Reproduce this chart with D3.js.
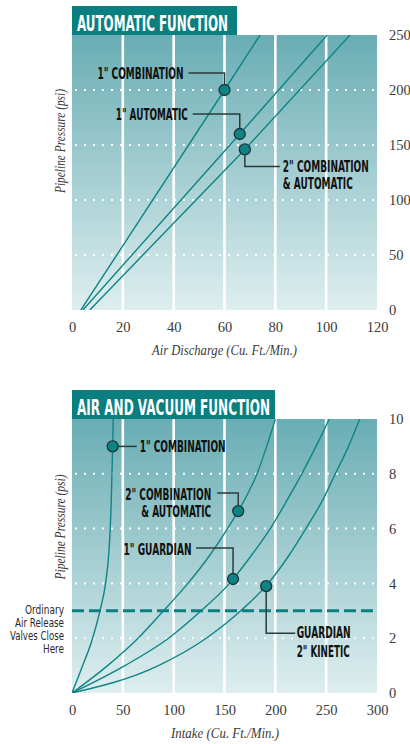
<!DOCTYPE html>
<html>
<head>
<meta charset="utf-8">
<script src="https://cdn.jsdelivr.net/npm/d3@7"></script>
<style>
  body { margin: 0; background: #fff; }
  .cond { font-family: "DejaVu Sans Condensed", "Liberation Sans Narrow", "DejaVu Sans", sans-serif; font-stretch: condensed; }
  .serif { font-family: "Liberation Serif", "DejaVu Serif", serif; }
</style>
</head>
<body>
<div id="vis"></div>
<script>
// ---- data ----
// automatic function: pressure (psi) vs air discharge (cfm)
const autoXTicks = [0, 20, 40, 60, 80, 100, 120];
const autoYTicks = [0, 50, 100, 150, 200, 250];
const autoComb1 = [[3.5, 0], [60, 200], [74, 250]];
const autoAuto1 = [[4.3, 0], [66, 160], [100.4, 250]];
const autoComb2 = [[7, 0], [68, 146], [109.4, 250]];

// air and vacuum function: pressure (psi) vs intake (cfm)
const vacXTicks = [0, 50, 100, 150, 200, 250, 300];
const vacYTicks = [0, 2, 4, 6, 8, 10];
const vacComb1 = [[0, 0], [10.5, 1], [20.3, 2], [27.5, 3], [33, 4], [36, 5], [37.6, 6], [38.6, 7], [39.3, 8], [40, 9], [40.6, 10]];
const vacComb2 = [[0, 0], [35, 1], [65, 2], [90, 3], [114, 4], [135, 5], [153, 6], [169, 7], [182, 8], [191.5, 9], [200, 10]];
const vacGuard1 = [[0, 0], [52, 1], [95, 2], [127, 3], [155, 4], [176, 5], [195, 6], [211, 7], [226, 8], [240, 9], [253, 10]];
const vacKinetic2 = [[0, 0], [85, 1], [132, 2], [166, 3], [193, 4], [213, 5], [230, 6], [246, 7], [259, 8], [272, 9], [283, 10]];
const closeLevel = 3;

var teal = "#0f8486";
var dark = "#2b3b3b";

var svg = d3.select("#vis")
    .append("svg")
    .attr("width", 410)
    .attr("height", 744);

var defs = svg.append("defs");
var grad = defs.append("linearGradient")
    .attr("id", "bg")
    .attr("x1", 0).attr("y1", 0).attr("x2", 0).attr("y2", 1);
grad.append("stop").attr("offset", "0%").attr("stop-color", "#69adb4");
grad.append("stop").attr("offset", "100%").attr("stop-color", "#deeeef");

function drawPanel(cfg) {
    var x = d3.scaleLinear().domain(cfg.xDomain).range([72, 377]);
    var y = d3.scaleLinear().domain(cfg.yDomain).range([cfg.bottom, cfg.top]);
    var g = svg.append("g");

    defs.append("clipPath").attr("id", cfg.id + "-clip")
        .append("rect")
        .attr("x", 72).attr("y", cfg.top)
        .attr("width", 305).attr("height", cfg.bottom - cfg.top);

    g.append("rect")
        .attr("x", 72).attr("y", cfg.top)
        .attr("width", 305).attr("height", cfg.bottom - cfg.top)
        .attr("fill", "url(#bg)");

    // white vertical grid
    g.selectAll(".vgrid")
        .data(cfg.xTicks.slice(1, -1))
        .enter().append("line")
        .attr("x1", d => x(d)).attr("x2", d => x(d))
        .attr("y1", cfg.top).attr("y2", cfg.bottom)
        .attr("stroke", "#fff")
        .attr("stroke-width", 2.6);

    // dotted horizontal grid
    g.selectAll(".hgrid")
        .data(cfg.yTicks.slice(1, -1))
        .enter().append("line")
        .attr("x1", 75).attr("x2", 377)
        .attr("y1", d => y(d)).attr("y2", d => y(d))
        .attr("stroke", "#fff")
        .attr("stroke-width", 2)
        .attr("stroke-dasharray", "2,7");

    // title tab
    g.append("rect")
        .attr("x", 72).attr("y", cfg.top - 29)
        .attr("width", cfg.tabWidth).attr("height", 29)
        .attr("fill", "#0b7f80");
    g.append("text")
        .attr("class", "cond")
        .attr("x", 77).attr("y", cfg.top - 4)
        .attr("fill", "#fff")
        .attr("font-size", 21)
        .attr("font-weight", "bold")
        .attr("textLength", cfg.titleLen)
        .attr("lengthAdjust", "spacingAndGlyphs")
        .text(cfg.title);

    // axes
    var xAxis = d3.axisBottom(x).tickValues(cfg.xTicks).tickSize(0).tickPadding(12);
    var yAxis = d3.axisRight(y).tickValues(cfg.yTicks).tickSize(0).tickPadding(12);

    var gx = g.append("g")
        .attr("transform", "translate(0," + cfg.bottom + ")")
        .call(xAxis);
    var gy = g.append("g")
        .attr("transform", "translate(377,0)")
        .call(yAxis);
    [gx, gy].forEach(function (a) {
        a.select(".domain").remove();
        a.selectAll("text")
            .attr("class", "serif")
            .attr("font-size", 14.5)
            .attr("fill", "#3a3a3a");
    });

    g.append("text")
        .attr("class", "serif")
        .attr("x", cfg.xTitleX).attr("y", cfg.bottom + 45)
        .attr("font-size", 14.5)
        .attr("font-style", "italic")
        .attr("fill", "#3a3a3a")
        .attr("textLength", cfg.xTitleLen)
        .attr("lengthAdjust", "spacingAndGlyphs")
        .text(cfg.xTitle);

    g.append("text")
        .attr("class", "serif")
        .attr("transform", "translate(65," + cfg.yTitleMid + ") rotate(-90)")
        .attr("text-anchor", "middle")
        .attr("font-size", 14.5)
        .attr("font-style", "italic")
        .attr("fill", "#3a3a3a")
        .attr("textLength", cfg.yTitleLen)
        .attr("lengthAdjust", "spacingAndGlyphs")
        .text("Pipeline Pressure (psi)");

    if (cfg.dashed != null) {
        g.append("line")
            .attr("x1", 72).attr("x2", 377)
            .attr("y1", y(cfg.dashed)).attr("y2", y(cfg.dashed))
            .attr("stroke", "#0b7f80")
            .attr("stroke-width", 3)
            .attr("stroke-dasharray", "12,5");
    }

    var line = d3.line()
        .x(d => x(d[0]))
        .y(d => y(d[1]))
        .curve(cfg.curve);

    g.append("g")
        .attr("clip-path", "url(#" + cfg.id + "-clip)")
        .selectAll("path")
        .data(cfg.series)
        .enter().append("path")
        .attr("d", d => line(d.values))
        .attr("fill", "none")
        .attr("stroke", teal)
        .attr("stroke-width", 1.4);

    // callouts: leader lines, markers, labels
    cfg.notes.forEach(function (n) {
        var px = x(n.at[0]), py = y(n.at[1]);
        g.append("path")
            .attr("d", "M" + n.leader.map(p => (px + p[0]) + "," + (py + p[1])).join("L"))
            .attr("fill", "none")
            .attr("stroke", dark)
            .attr("stroke-width", 1.5);
        g.append("circle")
            .attr("cx", px).attr("cy", py)
            .attr("r", 5.5)
            .attr("fill", "#0e8385")
            .attr("stroke", "#1d3434")
            .attr("stroke-width", 1.3);
        n.lines.forEach(function (t, i) {
            g.append("text")
                .attr("class", "cond")
                .attr("x", px + n.dx)
                .attr("y", py + n.dy[i])
                .attr("text-anchor", n.anchor)
                .attr("font-size", 15)
                .attr("font-weight", "bold")
                .attr("fill", "#111")
                .attr("textLength", n.len[i])
                .attr("lengthAdjust", "spacingAndGlyphs")
                .text(t);
        });
    });
    return { x: x, y: y, g: g };
}

drawPanel({
    id: "auto",
    title: "AUTOMATIC FUNCTION", titleLen: 151, tabWidth: 165,
    top: 35, bottom: 310,
    xDomain: [0, 120], yDomain: [0, 250],
    xTicks: autoXTicks, yTicks: autoYTicks,
    xTitle: "Air Discharge (Cu. Ft./Min.)", xTitleX: 152, xTitleLen: 145,
    yTitleMid: 141, yTitleLen: 104,
    curve: d3.curveLinear,
    series: [
        { name: "1\" COMBINATION", values: autoComb1 },
        { name: "1\" AUTOMATIC", values: autoAuto1 },
        { name: "2\" COMBINATION & AUTOMATIC", values: autoComb2 }
    ],
    notes: [
        { at: autoComb1[1], lines: ["1\" COMBINATION"], len: [86], anchor: "end", dx: -41, dy: [-11],
          leader: [[-36, -17], [0, -17], [0, 0]] },
        { at: autoAuto1[1], lines: ["1\" AUTOMATIC"], len: [72], anchor: "end", dx: -52, dy: [-14],
          leader: [[-47, -20], [0, -20], [0, 0]] },
        { at: autoComb2[1], lines: ["2\" COMBINATION", "& AUTOMATIC"], len: [86, 70], anchor: "start", dx: 38, dy: [22.5, 40],
          leader: [[0, 0], [0, 17], [35, 17]] }
    ]
});

var vac = drawPanel({
    id: "vac",
    title: "AIR AND VACUUM FUNCTION", titleLen: 193, tabWidth: 203,
    top: 419, bottom: 693,
    xDomain: [0, 300], yDomain: [0, 10],
    xTicks: vacXTicks, yTicks: vacYTicks,
    xTitle: "Intake (Cu. Ft./Min.)", xTitleX: 171, xTitleLen: 108,
    yTitleMid: 527, yTitleLen: 105,
    dashed: closeLevel,
    curve: d3.curveMonotoneX,
    series: [
        { name: "1\" COMBINATION", values: vacComb1 },
        { name: "2\" COMBINATION & AUTOMATIC", values: vacComb2 },
        { name: "1\" GUARDIAN", values: vacGuard1 },
        { name: "GUARDIAN 2\" KINETIC", values: vacKinetic2 }
    ],
    notes: [
        { at: [40, 9], lines: ["1\" COMBINATION"], len: [86], anchor: "start", dx: 27, dy: [6],
          leader: [[0, 0], [24, 0]] },
        { at: [163.5, 6.64], lines: ["2\" COMBINATION", "& AUTOMATIC"], len: [86, 70], anchor: "end", dx: -27, dy: [-11.5, 6],
          leader: [[-21, -18], [0, -18], [0, 0]] },
        { at: [158.4, 4.16], lines: ["1\" GUARDIAN"], len: [68], anchor: "end", dx: -41.5, dy: [-24],
          leader: [[-37, -31], [0, -31], [0, 0]] },
        { at: [191, 3.9], lines: ["GUARDIAN", "2\" KINETIC"], len: [54, 53], anchor: "start", dx: 30.5, dy: [52, 70.5],
          leader: [[0, 0], [0, 47], [29, 47]] }
    ]
});

// note beside the dashed line
var closeNote = ["Ordinary", "Air Release", "Valves Close", "Here"];
var closeLens = [39, 49, 54, 21];
vac.g.selectAll(".close-note")
    .data(closeNote)
    .enter().append("text")
    .attr("class", "cond")
    .attr("x", 64)
    .attr("y", (d, i) => vac.y(closeLevel) + 3.5 + i * 12.8)
    .attr("text-anchor", "end")
    .attr("font-size", 13)
    .attr("fill", "#2a2a2a")
    .attr("textLength", (d, i) => closeLens[i])
    .attr("lengthAdjust", "spacingAndGlyphs")
    .text(d => d);
</script>
</body>
</html>
